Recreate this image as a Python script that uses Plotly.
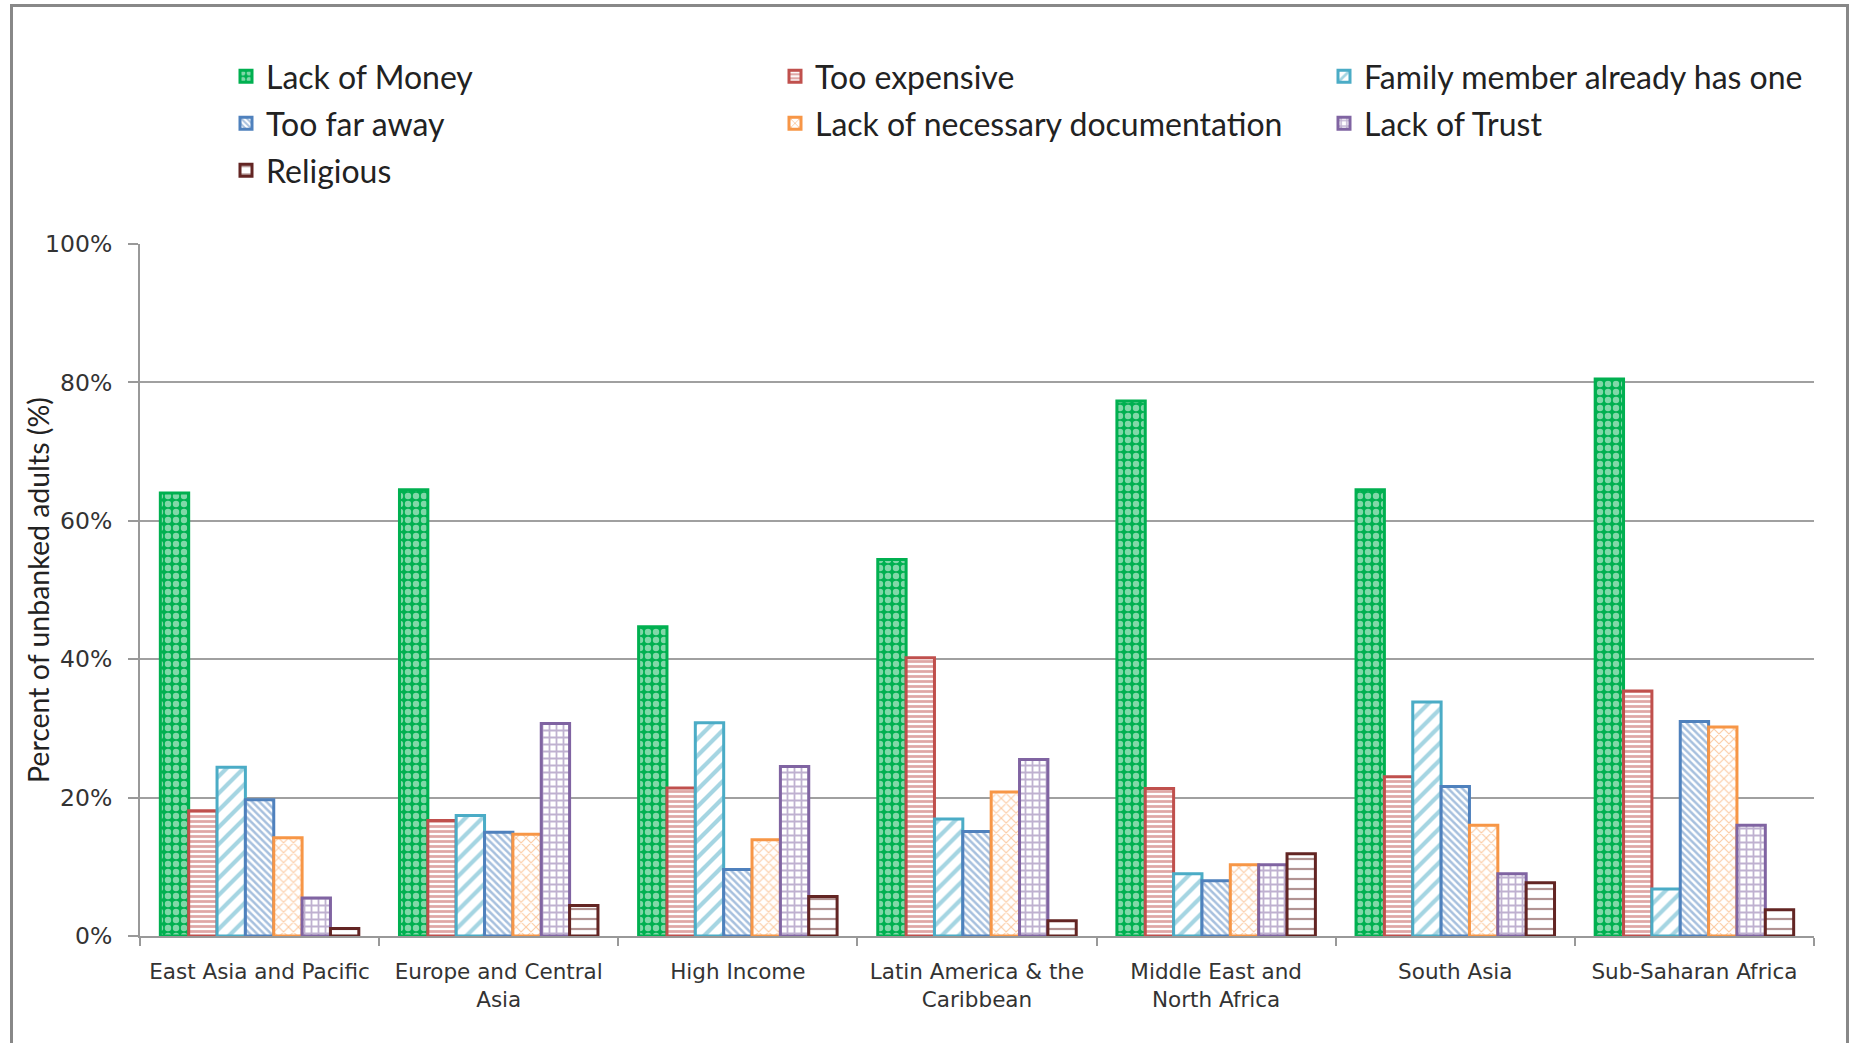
import plotly.graph_objects as go

categories = [
    "East Asia and Pacific",
    "Europe and Central<br>Asia",
    "High Income",
    "Latin America & the<br>Caribbean",
    "Middle East and<br>North Africa",
    "South Asia",
    "Sub-Saharan Africa",
]

lack_of_money = [64.0, 64.5, 44.7, 54.4, 77.3, 64.5, 80.5]
too_expensive = [18.1, 16.7, 21.4, 40.2, 21.3, 23.0, 35.4]
family_member = [24.4, 17.4, 30.8, 16.9, 9.0, 33.8, 6.8]
too_far_away = [19.7, 15.0, 9.6, 15.1, 8.0, 21.6, 31.0]
lack_of_documentation = [14.2, 14.7, 13.9, 20.8, 10.3, 16.0, 30.2]
lack_of_trust = [5.5, 30.7, 24.5, 25.5, 10.3, 9.0, 16.0]
religious = [1.1, 4.4, 5.7, 2.2, 11.9, 7.7, 3.8]

y_tick_vals = [0, 20, 40, 60, 80, 100]
y_tick_text = ["0%", "20%", "40%", "60%", "80%", "100%"]

series = [
    ("Lack of Money", lack_of_money, "#00B050", "legend",
     dict(shape=".", fgcolor="#FFFFFF", bgcolor="#00B050", size=8, solidity=0.5)),
    ("Too expensive", too_expensive, "#C0504D", "legend",
     dict(shape="-", fgcolor="#C0504D", bgcolor="#FFFFFF", size=5, solidity=0.55)),
    ("Family member already has one", family_member, "#4BACC6", "legend",
     dict(shape="/", fgcolor="#4BACC6", bgcolor="#FFFFFF", size=12, solidity=0.35)),
    ("Too far away", too_far_away, "#4F81BD", "legend2",
     dict(shape="\\", fgcolor="#4F81BD", bgcolor="#FFFFFF", size=5, solidity=0.5)),
    ("Lack of necessary documentation", lack_of_documentation, "#F79646", "legend2",
     dict(shape="x", fgcolor="#F79646", bgcolor="#FFFFFF", size=7, solidity=0.3)),
    ("Lack of Trust", lack_of_trust, "#8064A2", "legend2",
     dict(shape="+", fgcolor="#8064A2", bgcolor="#FFFFFF", size=7, solidity=0.45)),
    ("Religious", religious, "#632523", "legend3",
     dict(shape="-", fgcolor="#632523", bgcolor="#FFFFFF", size=10, solidity=0.22)),
]

fig = go.Figure()
for name, vals, color, leg, pat in series:
    fig.add_trace(go.Bar(
        name=name, x=categories, y=vals, legend=leg,
        marker=dict(color="#FFFFFF", line=dict(color=color, width=3), pattern=pat),
    ))

W, H = 1854, 1043
L, R, T, B = 140, 40, 244, 107
pw, ph = W - L - R, H - T - B

def px_x(x):
    return (x - L) / pw

def px_y(y):
    return (H - B - y) / ph

legend_font = dict(family="Lato, sans-serif", size=32, color="#222222")

def make_legend(top):
    return dict(
        orientation="h", x=px_x(226), xanchor="left", y=px_y(top), yanchor="top",
        entrywidth=504, entrywidthmode="pixels", font=legend_font,
        bgcolor="rgba(0,0,0,0)", traceorder="normal",
    )

fig.update_layout(
    width=W, height=H,
    margin=dict(l=L, r=R, t=T, b=B, autoexpand=False),
    paper_bgcolor="white", plot_bgcolor="white",
    barmode="group", bargap=0.17, bargroupgap=0,
    showlegend=True,
    legend=make_legend(49),
    legend2=make_legend(96),
    legend3=make_legend(143),
    xaxis=dict(
        showline=True, linecolor="#999999", linewidth=2,
        ticks="outside", tickson="boundaries", ticklen=8, tickcolor="#999999", tickwidth=2,
        tickfont=dict(family="DejaVu Sans, sans-serif", size=21.5, color="#333333"),
        ticklabelstandoff=15,
        showgrid=False,
    ),
    yaxis=dict(
        range=[0, 100], tickmode="array", tickvals=y_tick_vals, ticktext=y_tick_text,
        showline=True, linecolor="#999999", linewidth=2,
        ticks="outside", ticklen=10, tickcolor="#999999", tickwidth=2,
        showgrid=True, gridcolor="#A0A0A0", gridwidth=1.5,
        zeroline=False,
        tickfont=dict(family="DejaVu Sans, sans-serif", size=23.5, color="#333333"),
        ticklabelstandoff=11,
    ),
    annotations=[dict(
        text="Percent of unbanked adults (%)", xref="paper", yref="paper",
        x=px_x(38), y=0.5, xanchor="center", yanchor="middle", textangle=-90,
        showarrow=False, font=dict(family="Lato, sans-serif", size=28.5, color="#222222"),
    )],
    shapes=[dict(
        type="rect", xref="paper", yref="paper",
        x0=px_x(11.5), x1=px_x(1847.5), y0=px_y(1070), y1=px_y(5.5),
        line=dict(color="#888888", width=3), fillcolor="rgba(0,0,0,0)", layer="below",
    )],
)

fig.write_html("out.html")
